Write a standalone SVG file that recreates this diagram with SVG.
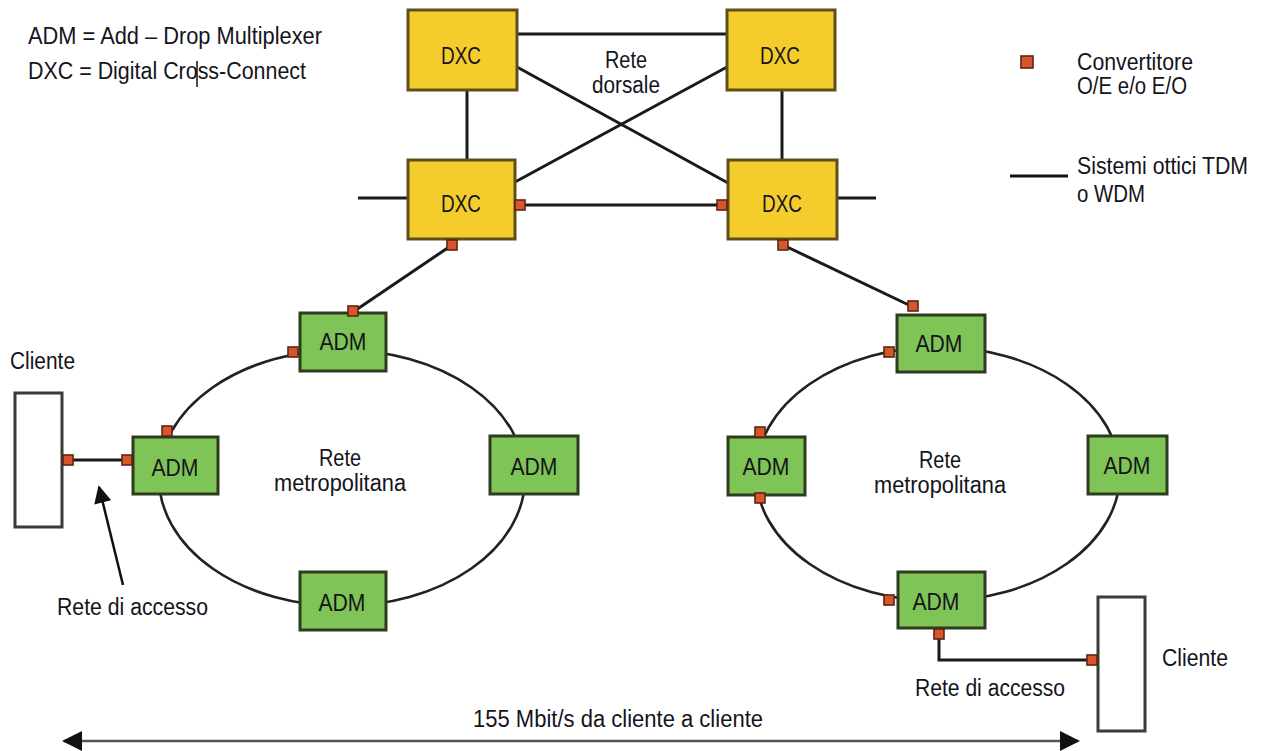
<svg xmlns="http://www.w3.org/2000/svg" width="1263" height="751" viewBox="0 0 1263 751">
<defs>
<style>
text{font-family:"Liberation Sans",Arial,sans-serif;font-size:23px;fill:#14141c}
.c{text-anchor:middle}
.dxc{fill:#f4cd2c;stroke:#5e4e1c;stroke-width:3}
.adm{fill:#7fc457;stroke:#2e3b1e;stroke-width:3}
.cli{fill:#fff;stroke:#3a3a3a;stroke-width:3}
.ln{fill:none;stroke:#1a1a1a;stroke-width:3}
.ring{fill:none;stroke:#222;stroke-width:2.6}
.cv{fill:#d9552b;stroke:#5a2618;stroke-width:1.6}
</style>
<marker id="ah" viewBox="0 0 10 10" refX="9" refY="5" markerWidth="8" markerHeight="7" markerUnits="strokeWidth" orient="auto-start-reverse">
<path d="M0,0 L10,5 L0,10 z" fill="#111"/>
</marker>
<marker id="ah2" viewBox="0 0 10 10" refX="9" refY="5" markerWidth="9" markerHeight="8" markerUnits="strokeWidth" orient="auto-start-reverse">
<path d="M0,0 L10,5 L0,10 z" fill="#111"/>
</marker>
</defs>
<rect width="1263" height="751" fill="#fff"/>

<g id="legend">
<text x="28" y="44" textLength="294" lengthAdjust="spacingAndGlyphs">ADM = Add – Drop Multiplexer</text>
<text x="28" y="79" textLength="278" lengthAdjust="spacingAndGlyphs">DXC = Digital Cross-Connect</text>
<line x1="197" y1="61" x2="197" y2="87" stroke="#111" stroke-width="1.5"/>
<rect class="cv" x="1021" y="56" width="12" height="12"/>
<text x="1077" y="70" textLength="116" lengthAdjust="spacingAndGlyphs">Convertitore</text>
<text x="1077" y="94" textLength="110" lengthAdjust="spacingAndGlyphs">O/E e/o E/O</text>
<line x1="1010" y1="176" x2="1068" y2="176" stroke="#111" stroke-width="3"/>
<text x="1077" y="174" textLength="171" lengthAdjust="spacingAndGlyphs">Sistemi ottici TDM</text>
<text x="1077" y="202" textLength="68" lengthAdjust="spacingAndGlyphs">o WDM</text>
</g>

<g id="connectors">
<line class="ln" x1="517" y1="34" x2="727" y2="34"/>
<line class="ln" x1="467" y1="90" x2="467" y2="160"/>
<line class="ln" x1="782" y1="90" x2="782" y2="160"/>
<line class="ln" x1="517" y1="67" x2="728" y2="183"/>
<line class="ln" x1="727" y1="67" x2="515" y2="182"/>
<line class="ln" x1="515" y1="205" x2="728" y2="205"/>
<line class="ln" x1="358" y1="198" x2="407" y2="198"/>
<line class="ln" x1="837" y1="198" x2="876" y2="198"/>
<line class="ln" x1="452" y1="245" x2="353" y2="312"/>
<line class="ln" x1="783" y1="245" x2="913" y2="307"/>
<ellipse class="ring" cx="342" cy="478" rx="183" ry="128"/>
<ellipse class="ring" cx="938" cy="474" rx="182" ry="127"/>
<line class="ln" x1="68" y1="460" x2="127" y2="460"/>
<path class="ln" d="M939,634 V660 H1092"/>
<line x1="123" y1="585" x2="99" y2="487" stroke="#111" stroke-width="2.5" marker-end="url(#ah)"/>
<line x1="64" y1="741" x2="1078" y2="741" stroke="#555" stroke-width="2.5" marker-start="url(#ah2)" marker-end="url(#ah2)"/>
</g>

<g id="label-dorsale">
<text class="c" x="626" y="68" textLength="42" lengthAdjust="spacingAndGlyphs">Rete</text>
<text class="c" x="626" y="93" textLength="68" lengthAdjust="spacingAndGlyphs">dorsale</text>
</g>

<g id="dxc-tl"><rect class="dxc" x="408" y="10" width="109" height="80"/><text class="c" x="461" y="64" textLength="40" lengthAdjust="spacingAndGlyphs">DXC</text></g>
<g id="dxc-tr"><rect class="dxc" x="727" y="10" width="108" height="80"/><text class="c" x="780" y="64" textLength="40" lengthAdjust="spacingAndGlyphs">DXC</text></g>
<g id="dxc-bl"><rect class="dxc" x="408" y="160" width="107" height="79"/><text class="c" x="461" y="212" textLength="40" lengthAdjust="spacingAndGlyphs">DXC</text>
<rect class="cv" x="515" y="200" width="10" height="10"/><rect class="cv" x="447" y="240" width="10" height="10"/></g>
<g id="dxc-br"><rect class="dxc" x="728" y="160" width="109" height="79"/><text class="c" x="782" y="212" textLength="40" lengthAdjust="spacingAndGlyphs">DXC</text>
<rect class="cv" x="717" y="200" width="10" height="10"/><rect class="cv" x="778" y="240" width="10" height="10"/></g>

<g id="ring-left-label">
<text class="c" x="340" y="466" textLength="42" lengthAdjust="spacingAndGlyphs">Rete</text>
<text class="c" x="340" y="491" textLength="132" lengthAdjust="spacingAndGlyphs">metropolitana</text>
</g>
<g id="adm-l-top"><rect class="adm" x="300" y="313" width="86" height="58"/><text class="c" x="343" y="350" textLength="47" lengthAdjust="spacingAndGlyphs">ADM</text>
<rect class="cv" x="348" y="306" width="10" height="10"/><rect class="cv" x="288" y="347" width="10" height="10"/></g>
<g id="adm-l-left"><rect class="adm" x="133" y="437" width="85" height="57"/><text class="c" x="175" y="476" textLength="47" lengthAdjust="spacingAndGlyphs">ADM</text>
<rect class="cv" x="162" y="426" width="10" height="10"/><rect class="cv" x="122" y="455" width="10" height="10"/></g>
<g id="adm-l-right"><rect class="adm" x="490" y="436" width="88" height="58"/><text class="c" x="534" y="475" textLength="47" lengthAdjust="spacingAndGlyphs">ADM</text></g>
<g id="adm-l-bottom"><rect class="adm" x="300" y="572" width="86" height="58"/><text class="c" x="342" y="611" textLength="47" lengthAdjust="spacingAndGlyphs">ADM</text></g>

<g id="cliente-left">
<text x="10" y="369" textLength="65" lengthAdjust="spacingAndGlyphs">Cliente</text>
<rect class="cli" x="15" y="393" width="47" height="134"/>
<rect class="cv" x="63" y="455" width="10" height="10"/>
<text x="57" y="615" textLength="151" lengthAdjust="spacingAndGlyphs">Rete di accesso</text>
</g>

<g id="ring-right-label">
<text class="c" x="940" y="468" textLength="42" lengthAdjust="spacingAndGlyphs">Rete</text>
<text class="c" x="940" y="493" textLength="132" lengthAdjust="spacingAndGlyphs">metropolitana</text>
</g>
<g id="adm-r-top"><rect class="adm" x="897" y="315" width="88" height="57"/><text class="c" x="939" y="352" textLength="47" lengthAdjust="spacingAndGlyphs">ADM</text>
<rect class="cv" x="908" y="301" width="10" height="10"/><rect class="cv" x="884" y="347" width="10" height="10"/></g>
<g id="adm-r-left"><rect class="adm" x="728" y="437" width="77" height="58"/><text class="c" x="766" y="475" textLength="47" lengthAdjust="spacingAndGlyphs">ADM</text>
<rect class="cv" x="755" y="427" width="10" height="10"/><rect class="cv" x="755" y="493" width="10" height="10"/></g>
<g id="adm-r-right"><rect class="adm" x="1088" y="436" width="79" height="58"/><text class="c" x="1127" y="474" textLength="47" lengthAdjust="spacingAndGlyphs">ADM</text></g>
<g id="adm-r-bottom"><rect class="adm" x="898" y="572" width="87" height="56"/><text class="c" x="936" y="610" textLength="47" lengthAdjust="spacingAndGlyphs">ADM</text>
<rect class="cv" x="884" y="595" width="10" height="10"/><rect class="cv" x="934" y="629" width="10" height="10"/></g>

<g id="cliente-right">
<rect class="cli" x="1098" y="597" width="47" height="134"/>
<rect class="cv" x="1087" y="655" width="10" height="10"/>
<text x="1162" y="666" textLength="66" lengthAdjust="spacingAndGlyphs">Cliente</text>
<text x="915" y="696" textLength="150" lengthAdjust="spacingAndGlyphs">Rete di accesso</text>
</g>

<g id="span-label">
<text x="473" y="727" textLength="290" lengthAdjust="spacingAndGlyphs">155 Mbit/s da cliente a cliente</text>
</g>
</svg>
